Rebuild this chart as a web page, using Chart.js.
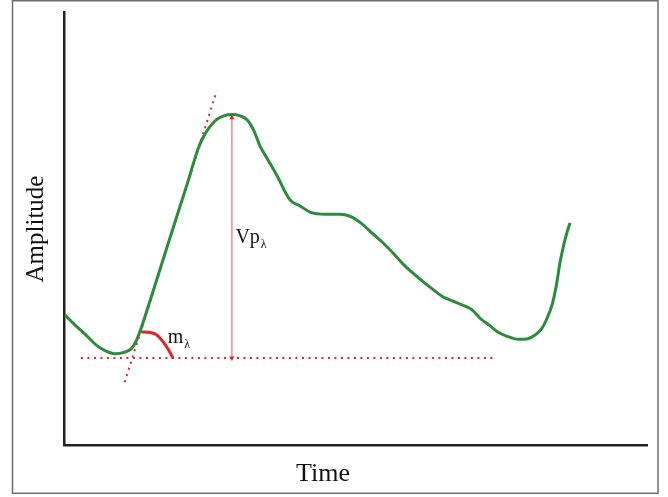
<!DOCTYPE html>
<html>
<head>
<meta charset="utf-8">
<script src="https://cdn.jsdelivr.net/npm/chart.js@4"></script>
<style>
  body { margin: 0; background: #fff; }
</style>
</head>
<body>
<canvas id="myChart" width="668" height="497"></canvas>
<script>
// waveform (time / amplitude, arbitrary units 0-100)
const time = [0.2, 1.9, 3.6, 5.7, 7.2, 8.7, 10.3, 11.5, 12.3, 13.0, 14.8, 18.0, 21.3, 23.0, 23.8, 24.9, 26.1, 27.4, 28.8, 30.2, 31.4, 32.6, 33.6,
  34.8, 36.0, 37.0, 38.1, 38.9, 40.5, 42.2, 44.8, 47.3, 49.1, 50.9, 52.8, 54.7, 56.6, 58.3, 60.2, 61.9, 63.6, 65.0, 66.6,
  68.4, 70.0, 71.5, 73.1, 74.4, 76.0, 77.9, 79.4, 80.8, 82.0, 82.8, 83.7, 84.4, 85.1, 85.8, 86.3, 86.8]
const amplitude = [30.0, 27.7, 25.6, 22.9, 21.7, 21.1, 21.4, 22.2, 23.8, 26.1, 33.5, 47.1, 61.0, 68.4, 70.9, 73.3, 75.1, 76.0, 76.3, 76.0, 75.1, 72.5, 69.1,
  66.3, 63.5, 61.0, 58.0, 56.4, 55.2, 53.8, 53.3, 53.3, 52.8, 51.3, 49.0, 46.7, 44.1, 41.6, 39.3, 37.4, 35.6, 34.2, 33.3,
  32.3, 31.2, 29.1, 27.5, 26.1, 25.1, 24.4, 24.5, 25.4, 27.0, 29.1, 32.3, 36.5, 42.3, 46.7, 49.2, 51.3]

// construction lines
const baselineX = [2.9, 73.9]
const baselineY = [20.1, 20.1]
const tangentX = [10.4, 26.2]
const tangentY = [14.5, 81.8]
const peakArrowX = [28.8, 28.8]
const peakArrowY = [20.1, 75.6]
const slopeArcX = [13.3, 14.8, 15.8, 16.6, 17.3, 18.0, 18.7]
const slopeArcY = [26.1, 26.0, 25.5, 24.5, 23.3, 21.8, 20.1]

// labels: [main, subscript, x, y]
const labels = [
  ['Vp', 'λ', 29.4, 46.7],
  ['m', 'λ', 17.8, 23.6]
]

const pts = (xs, ys) => xs.map((x, i) => ({x: x, y: ys[i]}))
const red = '#e42424'
const serif = '"Liberation Serif", "Times New Roman", serif'

const decorations = {
  id: 'decorations',
  beforeDraw(chart) {
    const c = chart.ctx
    c.save()
    c.fillStyle = '#fff'
    c.fillRect(0, 0, chart.width, chart.height)
    c.strokeStyle = '#6e6e6e'
    c.lineWidth = 1.5
    c.strokeRect(12.5, 0.75, 645.5, 492.5)
    c.restore()
  },
  afterDatasetsDraw(chart) {
    const c = chart.ctx
    const xs = chart.scales.x, ys = chart.scales.y
    c.save()
    c.fillStyle = '#111'
    labels.forEach(([main, sub, x, y]) => {
      const px = xs.getPixelForValue(x), py = ys.getPixelForValue(y)
      c.font = '20px ' + serif
      c.textAlign = 'left'
      c.textBaseline = 'alphabetic'
      c.fillText(main, px, py)
      const w = c.measureText(main).width
      c.font = '12px ' + serif
      c.fillText(sub, px + w + 1, py + 5)
    })
    // axis titles
    c.font = '26px ' + serif
    c.textAlign = 'center'
    c.fillText('Time', 323, 481)
    c.translate(43, 229)
    c.rotate(-Math.PI / 2)
    c.font = '25px ' + serif
    c.fillText('Amplitude', 0, 0)
    c.restore()
  }
}

new Chart(document.getElementById('myChart'), {
  type: 'scatter',
  data: {
    datasets: [
      {
        data: pts(time, amplitude),
        showLine: true,
        borderColor: '#2b8c3c',
        borderWidth: 3,
        pointRadius: 0,
        cubicInterpolationMode: 'monotone'
      },
      {
        data: pts(slopeArcX, slopeArcY),
        showLine: true,
        borderColor: red,
        borderWidth: 3,
        pointRadius: 0,
        cubicInterpolationMode: 'monotone'
      },
      {
        data: pts(peakArrowX, peakArrowY),
        showLine: true,
        borderColor: 'rgba(228,70,70,0.75)',
        borderWidth: 1.3,
        pointStyle: 'triangle',
        pointRadius: 3,
        rotation: [180, 0],
        pointBackgroundColor: red,
        pointBorderColor: red,
        pointBorderWidth: 0
      },
      {
        data: pts(tangentX, tangentY),
        showLine: true,
        borderColor: red,
        borderWidth: 2,
        borderDash: [2, 4.5],
        pointRadius: 0
      },
      {
        data: pts(baselineX, baselineY),
        showLine: true,
        borderColor: red,
        borderWidth: 2,
        borderDash: [2, 4.5],
        pointRadius: 0
      }
    ]
  },
  options: {
    responsive: false,
    animation: false,
    devicePixelRatio: 1,
    layout: { padding: { left: 64, top: 12, right: 21, bottom: 52 } },
    plugins: { legend: { display: false }, tooltip: { enabled: false } },
    scales: {
      x: {
        min: 0, max: 100,
        ticks: { display: false },
        grid: { display: false, drawTicks: false },
        border: { display: true, color: '#222', width: 2.5 }
      },
      y: {
        min: 0, max: 100,
        ticks: { display: false },
        grid: { display: false, drawTicks: false },
        border: { display: true, color: '#222', width: 2.5 }
      }
    }
  },
  plugins: [decorations]
});
</script>
</body>
</html>
